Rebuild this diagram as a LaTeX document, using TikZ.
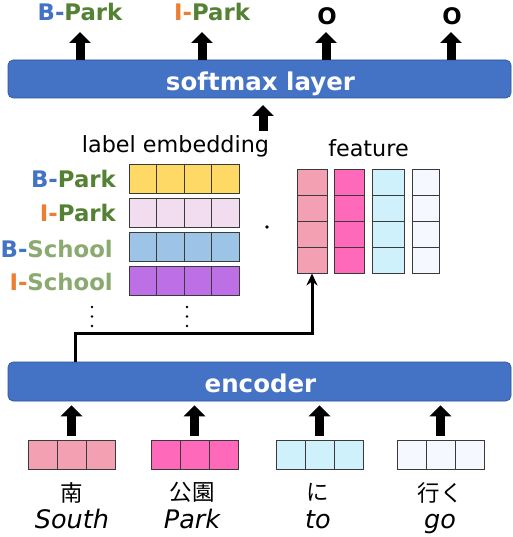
\documentclass[tikz,border=0pt]{standalone}
\usepackage{fontspec}
\setmainfont{DejaVu Sans}
\newfontfamily\jpfont{Noto Sans CJK JP}
\usetikzlibrary{arrows.meta}
\definecolor{cB}{HTML}{4472C4}
\definecolor{cO}{HTML}{ED7D31}
\definecolor{cG}{HTML}{548235}
\definecolor{cLG}{HTML}{8AAA70}
\definecolor{boxblue}{HTML}{4472C4}
\definecolor{boxedge}{HTML}{2F5597}
\definecolor{cY}{HTML}{FFD966}
\definecolor{cLP}{HTML}{F2DDF0}
\definecolor{cLB}{HTML}{9DC3E6}
\definecolor{cPu}{HTML}{BD6FE6}
\definecolor{cPa}{HTML}{F2A0B2}
\definecolor{cPb}{HTML}{FF69B9}
\definecolor{cC}{HTML}{CFF1FC}
\definecolor{cW}{HTML}{F5F9FF}
\definecolor{celledge}{HTML}{3A3A3A}
\begin{document}
\begin{tikzpicture}[x=1pt,y=-1pt,
 layer/.style={draw=boxedge,line width=0.6pt,fill=boxblue,rounded corners=5pt,inner sep=0pt},
 layertext/.style={text=white,font=\bfseries\fontsize{24.5}{24.5}\selectfont,anchor=base,inner sep=0pt},
 toplab/.style={font=\bfseries\fontsize{22.8}{22.8}\selectfont,anchor=base,inner sep=0pt},
 cell/.style={draw=celledge,line width=0.9pt,inner sep=0pt},
 barrow/.style={line width=9pt,-{Triangle[width=21pt,length=11pt]}},
 thinarrow/.style={line width=3pt,-{Stealth[length=12pt,width=11pt]}},
 caption/.style={font=\fontsize{22.3}{22.3}\selectfont,anchor=base,inner sep=0pt},
 jp/.style={font=\jpfont\fontsize{22.5}{22.5}\selectfont,inner sep=0pt},
 en/.style={font=\itshape\fontsize{25.5}{25.5}\selectfont,anchor=base,inner sep=0pt},
 dot/.style={fill=black,circle,inner sep=0pt,minimum size=2.8pt}]

\fill[white] (0,0) rectangle (512,537);
\path[use as bounding box] (0,0) rectangle (512,537);

% layers
\node[layer,minimum width=503,minimum height=38] (softmax) at (259.5,79) {};
\node[layertext] (softmaxt) at (260.5,91) {softmax layer};
\node[layer,minimum width=503,minimum height=39] (encoder) at (259.5,381.5) {};
\node[layertext] (encodert) at (260.5,392.5) {encoder};

% output labels
\node[toplab] (t1) at (80,21) {\textcolor{cB}{B-}\textcolor{cG}{Park}};
\node[toplab] (t2) at (212,21) {\textcolor{cO}{I-}\textcolor{cG}{Park}};
\node[toplab] (t3) at (327,24.5) {O};
\node[toplab] (t4) at (452,24.5) {O};
\coordinate (a1) at (80,32);
\coordinate (a2) at (202,32);
\coordinate (a3) at (326,32);
\coordinate (a4) at (451,32);
\foreach \i in {1,...,4}{\draw[barrow] (softmax.north -| a\i) -- (a\i);}

% arrow into softmax
\coordinate (emb) at (263,131);
\coordinate (s0) at (263,105);
\draw[barrow] (emb) -- (s0);

% label embedding
\node[caption] (lecap) at (175.5,153) {label embedding};
\foreach \c [count=\r] in {cY,cLP,cLB,cPu}{
  \foreach \k in {1,...,4}{
    \node[cell,fill=\c,minimum width=27.5,minimum height=29] (e\r-\k) at ({129+27.5*(\k-0.5)},{178.5+34*(\r-1)}) {};
  }
}
\node[toplab,anchor=base east] (lb1) at (116,188) {\textcolor{cB}{B-}\textcolor{cG}{Park}};
\node[toplab,anchor=base east] (lb2) at (116,222) {\textcolor{cO}{I-}\textcolor{cG}{Park}};
\node[toplab,anchor=base east] (lb3) at (113,257) {\textcolor{cB}{B-}\textcolor{cLG}{School}};
\node[toplab,anchor=base east] (lb4) at (113,290) {\textcolor{cO}{I-}\textcolor{cLG}{School}};
\foreach \x/\n in {92/p,187/q}{
  \foreach \y [count=\j] in {307,316.5,326}{\node[dot] (\n\j) at (\x,\y) {};}
}
\node[dot,minimum size=3.6pt] (mul) at (267,227) {};

% feature
\node[caption] (fcap) at (368.5,157) {feature};
\foreach \c/\x/\w [count=\i] in {cPa/312/30,cPb/349/30,cC/388/32,cW/425.5/27}{
  \foreach \k in {1,...,4}{
    \node[cell,fill=\c,minimum width=\w,minimum height=26] (f\i-\k) at (\x,{182+26*(\k-1)}) {};
  }
}
\coordinate (ej) at (75,362);
\draw[thinarrow] (ej) -- (75,333) -| (f1-4.south);

% words
\foreach \c/\x [count=\i] in {cPa/71.5,cPb/194.5,cC/319.5,cW/440.5}{
  \foreach \k in {1,2,3}{
    \node[cell,fill=\c,minimum width=29,minimum height=29] (w\i-\k) at ({\x+29*(\k-2)},454.5) {};
  }
  \draw[barrow] ([yshift=4pt]w\i-2.north) -- ([yshift=-4pt]encoder.south -| w\i-2);
}
\node[jp] (j1) at (72,492.5) {南};
\node[jp] (j2) at (192,492.5) {公園};
\node[jp] (j3) at (318,492.5) {に};
\node[jp] (j4) at (440,492.5) {行く};
\node[en] (g1) at (72,528) {South};
\node[en] (g2) at (192,528) {Park};
\node[en] (g3) at (318,528) {to};
\node[en] (g4) at (440,528) {go};
\end{tikzpicture}
\end{document}
